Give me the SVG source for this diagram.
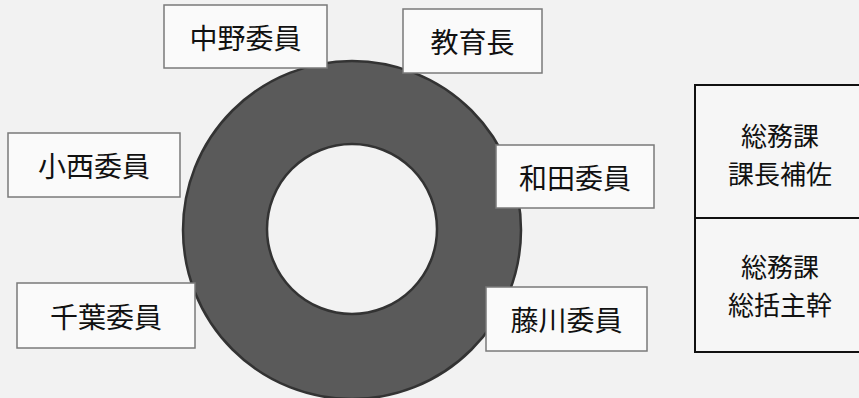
<svg xmlns="http://www.w3.org/2000/svg" width="859" height="398" viewBox="0 0 859 398">
<style>
.lbl{fill:#fafafa;stroke:#7a7a7a;stroke-width:1.5}
.t{font-family:"Noto Sans CJK JP","Noto Sans",sans-serif;font-size:28px;fill:#111;text-anchor:middle;dominant-baseline:central}
.s{font-size:26px}
.side{fill:#f6f6f6;stroke:#111;stroke-width:2}
</style>
<rect width="859" height="398" fill="#f2f2f2"/>
<g id="ring">
<path d="M183,230 a169,169 0 1,0 338,0 a169,169 0 1,0 -338,0 Z M267,229 a85,85 0 1,0 170,0 a85,85 0 1,0 -170,0 Z" fill="#5a5a5a" fill-rule="evenodd" stroke="#333" stroke-width="2.5"/>
</g>
<g id="connectors"></g>
<g id="nakano"><rect class="lbl" x="164" y="5" width="163" height="63"/><text class="t" x="245.5" y="37">中野委員</text></g>
<g id="kyoikucho"><rect class="lbl" x="403" y="9" width="139" height="64"/><text class="t" x="472.5" y="41">教育長</text></g>
<g id="konishi"><rect class="lbl" x="8" y="133" width="172" height="64"/><text class="t" x="94" y="165">小西委員</text></g>
<g id="wada"><rect class="lbl" x="496" y="145" width="158" height="63"/><text class="t" x="575" y="177">和田委員</text></g>
<g id="chiba"><rect class="lbl" x="17" y="283" width="178" height="65"/><text class="t" x="106" y="316">千葉委員</text></g>
<g id="fujikawa"><rect class="lbl" x="486" y="287" width="161" height="64"/><text class="t" x="566.5" y="319">藤川委員</text></g>
<g id="hosa"><rect class="side" x="695" y="85" width="170" height="133"/><text class="t s" x="780" y="134">総務課</text><text class="t s" x="780" y="172">課長補佐</text></g>
<g id="kanji"><rect class="side" x="695" y="218" width="170" height="134"/><text class="t s" x="780" y="265">総務課</text><text class="t s" x="780" y="303">総括主幹</text></g>
</svg>
